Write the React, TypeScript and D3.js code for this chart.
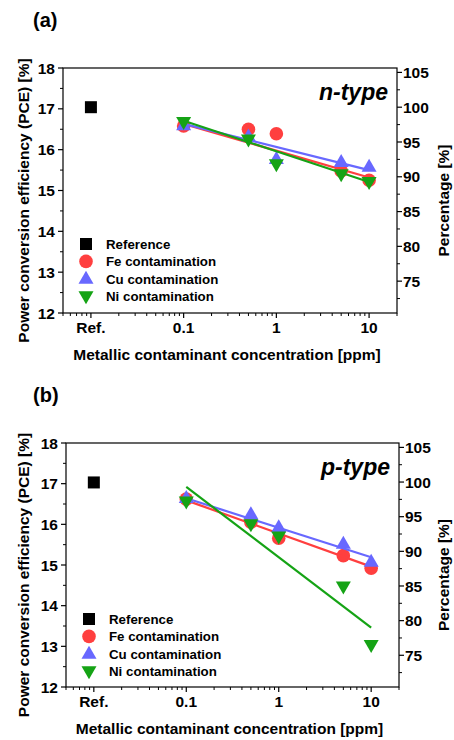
import * as d3 from 'd3';

// concentrations (ppm) for the contaminated cells, the reference sits at 0.01 as "Ref."
const concentrations = [0.1, 0.5, 1, 5, 10];
const refConcentration = 0.01;
const fitRange = [0.1, 10];
const pceTicks = [12, 13, 14, 15, 16, 17, 18];
const percentTicks = [75, 80, 85, 90, 95, 100, 105];
const xTickValues = [0.01, 0.1, 1, 10];
const xTickLabels = ['Ref.', '0.1', '1', '10'];
const legendLabels = ['Reference', 'Fe contamination', 'Cu contamination', 'Ni contamination'];
const percentBase = 17.04;

// (a) n-type
const refA = 17.04;
const feA = [16.58, 16.5, 16.39, 15.48, 15.25];
const cuA = [16.6, 16.32, 15.77, 15.7, 15.58];
const niA = [16.68, 16.25, 15.64, 15.4, 15.21];
const fitFeA = [16.63, 15.32];
const fitCuA = [16.63, 15.5];
const fitNiA = [16.71, 15.21];

// (b) p-type
const refB = 17.03;
const feB = [16.62, 16.05, 15.66, 15.23, 14.92];
const cuB = [16.65, 16.25, 15.93, 15.52, 15.08];
const niB = [16.56, 16.0, 15.7, 14.47, 13.03];
const fitFeB = [16.59, 14.96];
const fitCuB = [16.64, 15.19];
const fitNiB = [16.92, 13.46];

const RED = '#ff3f3f';
const BLUE = '#6868ff';
const GREEN = '#15a315';
const FONT = '"Liberation Sans", Arial, sans-serif';

function Marker({ kind, x, y, color }) {
  if (kind === 'square') return <rect x={x - 6} y={y - 6} width={12} height={12} fill="#000" />;
  if (kind === 'circle') return <circle cx={x} cy={y} r={6.8} fill={color} />;
  if (kind === 'up')
    return <path d={`M${x},${y - 8} L${x + 7.5},${y + 5} L${x - 7.5},${y + 5} Z`} fill={color} />;
  return <path d={`M${x},${y + 8} L${x + 7.5},${y - 5} L${x - 7.5},${y - 5} Z`} fill={color} />;
}

function Panel({ box, label, typeLabel, refValue, fe, cu, ni, fitFe, fitCu, fitNi }) {
  const { left, right, top, bottom } = box;
  const x = d3.scaleLog().domain([0.005, 20]).range([left, right]);
  const y = d3.scaleLinear().domain([12, 18]).range([bottom, top]);
  const yPct = d3
    .scaleLinear()
    .domain([(12 / percentBase) * 100, (18 / percentBase) * 100])
    .range([bottom, top]);

  const minorX = x.ticks().filter((t) => !xTickValues.some((v) => Math.abs(v - t) < 1e-9));
  const minorY = d3.range(12.5, 18, 1);
  const minorPct = d3.range(72.5, 105, 5);
  const midY = (top + bottom) / 2 + 10;

  const series = [
    { values: fe, fit: fitFe, color: RED, kind: 'circle' },
    { values: cu, fit: fitCu, color: BLUE, kind: 'up' },
    { values: ni, fit: fitNi, color: GREEN, kind: 'down' },
  ];
  const line = d3
    .line()
    .x((d) => x(d[0]))
    .y((d) => y(d[1]));

  return (
    <g fontFamily={FONT} fontWeight="bold" fill="#000">
      <text x={33} y={top - 41} fontSize={20}>
        {label}
      </text>

      {/* axes */}
      <rect x={left} y={top} width={right - left} height={bottom - top} fill="none" stroke="#000" strokeWidth={1.2} />
      {pceTicks.map((t) => (
        <g key={'l' + t}>
          <line x1={left - 5} x2={left} y1={y(t)} y2={y(t)} stroke="#000" strokeWidth={1.2} />
          <text x={left - 8} y={y(t)} dy="0.36em" textAnchor="end" fontSize={15.5}>
            {t}
          </text>
        </g>
      ))}
      {minorY.map((t) => (
        <line key={'lm' + t} x1={left - 3} x2={left} y1={y(t)} y2={y(t)} stroke="#000" strokeWidth={1} />
      ))}
      {percentTicks.map((t) => (
        <g key={'r' + t}>
          <line x1={right} x2={right + 5} y1={yPct(t)} y2={yPct(t)} stroke="#000" strokeWidth={1.2} />
          <text x={right + 6} y={yPct(t)} dy="0.36em" fontSize={15.5}>
            {t}
          </text>
        </g>
      ))}
      {minorPct.map((t) => (
        <line key={'rm' + t} x1={right} x2={right + 3} y1={yPct(t)} y2={yPct(t)} stroke="#000" strokeWidth={1} />
      ))}
      {xTickValues.map((t, i) => (
        <g key={'b' + t}>
          <line x1={x(t)} x2={x(t)} y1={bottom} y2={bottom + 5} stroke="#000" strokeWidth={1.2} />
          <text x={x(t)} y={bottom + 20} textAnchor="middle" fontSize={15.5}>
            {xTickLabels[i]}
          </text>
        </g>
      ))}
      {minorX.map((t) => (
        <line key={'bm' + t} x1={x(t)} x2={x(t)} y1={bottom} y2={bottom + 3} stroke="#000" strokeWidth={1} />
      ))}

      <text x={(left + right) / 2 - 3} y={bottom + 47} textAnchor="middle" fontSize={15.5}>
        Metallic contaminant concentration [ppm]
      </text>
      <text transform={`translate(23,${midY}) rotate(-90)`} dy="0.36em" textAnchor="middle" fontSize={15.5}>
        Power conversion efficiency (PCE) [%]
      </text>
      <text transform={`translate(443,${midY}) rotate(-90)`} dy="0.36em" textAnchor="middle" fontSize={15.5}>
        Percentage [%]
      </text>

      <text x={right - 9} y={top + 32} textAnchor="end" fontSize={23} fontStyle="italic">
        {typeLabel}
      </text>

      {/* data */}
      <Marker kind="square" x={x(refConcentration)} y={y(refValue)} />
      {series.map((s) => (
        <g key={s.kind}>
          {concentrations.map((c, i) => (
            <Marker key={c} kind={s.kind} x={x(c)} y={y(s.values[i])} color={s.color} />
          ))}
          <path
            d={line([
              [fitRange[0], s.fit[0]],
              [fitRange[1], s.fit[1]],
            ])}
            fill="none"
            stroke={s.color}
            strokeWidth={2.2}
          />
        </g>
      ))}

      {/* legend */}
      {legendLabels.map((name, i) => {
        const ly = top + 176 + i * 17.4;
        const kinds = ['square', 'circle', 'up', 'down'];
        const colors = ['#000', RED, BLUE, GREEN];
        return (
          <g key={name}>
            <Marker kind={kinds[i]} x={left + 23} y={ly} color={colors[i]} />
            <text x={left + 43} y={ly} dy="0.36em" fontSize={13.3}>
              {name}
            </text>
          </g>
        );
      })}
    </g>
  );
}

export default function App() {
  return (
    <svg
      width={454}
      height={740}
      viewBox="0 0 454 740"
      style={{ position: 'absolute', left: 0, top: 0, background: '#fff' }}
    >
      <rect width={454} height={740} fill="#fff" />
      <Panel
        box={{ left: 63, right: 397, top: 68, bottom: 313 }}
        label="(a)"
        typeLabel="n-type"
        refValue={refA}
        fe={feA}
        cu={cuA}
        ni={niA}
        fitFe={fitFeA}
        fitCu={fitCuA}
        fitNi={fitNiA}
      />
      <Panel
        box={{ left: 66, right: 399, top: 443, bottom: 687 }}
        label="(b)"
        typeLabel="p-type"
        refValue={refB}
        fe={feB}
        cu={cuB}
        ni={niB}
        fitFe={fitFeB}
        fitCu={fitCuB}
        fitNi={fitNiB}
      />
    </svg>
  );
}
